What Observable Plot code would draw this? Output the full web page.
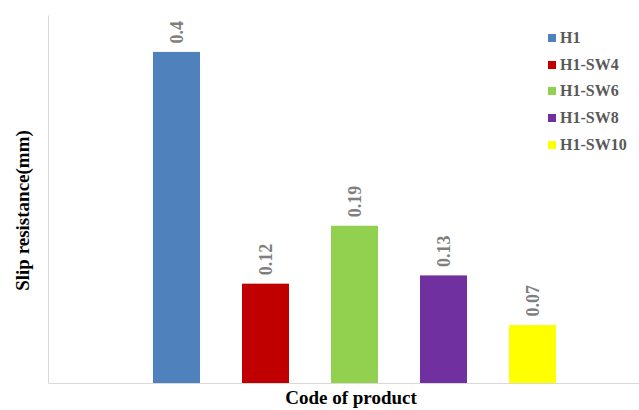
<!DOCTYPE html>
<html>
<head>
<meta charset="utf-8">
<script src="https://cdn.jsdelivr.net/npm/d3@7"></script>
<script src="https://cdn.jsdelivr.net/npm/@observablehq/plot@0.6"></script>
<style>
  html, body { margin: 0; padding: 0; background: #fff; }
  #wrap { position: relative; width: 639px; height: 410px; overflow: hidden; }
  #legend { position: absolute; left: 548px; top: 25px; font-family: "Liberation Serif", "Times New Roman", serif; font-weight: bold; font-size: 16px; color: #595959; }
  #legend .row { display: flex; align-items: center; height: 26.6px; }
  #legend .sw { width: 8px; height: 8px; margin-right: 4px; }
</style>
</head>
<body>
<div id="wrap"></div>
<script>
const categories = ["H1", "H1-SW4", "H1-SW6", "H1-SW8", "H1-SW10"];
const values = [0.4, 0.12, 0.19, 0.13, 0.07];
const colors = ["#4F81BD", "#C00000", "#92D050", "#7030A0", "#FFFF00"];
const yLabel = "Slip resistance(mm)";
const xLabel = "Code of product";

const data = categories.map((c, i) => ({code: c, value: values[i]}));
const serif = "Liberation Serif, Times New Roman, serif";

const W = 639, H = 410, mL = 48, mR = 0, mT = 15, mB = 27;
const fw = W - mL - mR, fh = H - mT - mB;

const chart = Plot.plot({
  width: W,
  height: H,
  marginLeft: mL,
  marginRight: mR,
  marginTop: mT,
  marginBottom: mB,
  x: {domain: categories, range: [130.9, 577], paddingInner: 0.474, paddingOuter: 0.237, axis: null},
  y: {domain: [0, 0.4446], axis: null},
  color: {domain: categories, range: colors},
  marks: [
    Plot.frame({stroke: "#d9d9d9", strokeWidth: 1, strokeDasharray: `0,${fw + fh},${fw + fh}`}),
    Plot.barY(data, {x: "code", y: "value", fill: "code"}),
    Plot.text(data, {x: "code", y: "value", text: d => String(d.value), rotate: -90, textAnchor: "start", dy: -9, fill: "#7f7f7f", fontWeight: "bold", fontSize: 18, fontFamily: serif}),
    Plot.text([yLabel], {frameAnchor: "left", textAnchor: "middle", rotate: -90, dx: -26, dy: 11, fill: "#000", fontWeight: "bold", fontSize: 19, fontFamily: serif}),
    Plot.text([xLabel], {frameAnchor: "bottom", textAnchor: "middle", dx: 7, dy: 20, fill: "#000", fontWeight: "bold", fontSize: 19, fontFamily: serif})
  ]
});

const wrap = document.getElementById("wrap");
wrap.appendChild(chart);

const legend = document.createElement("div");
legend.id = "legend";
categories.forEach((c, i) => {
  const row = document.createElement("div");
  row.className = "row";
  const sw = document.createElement("span");
  sw.className = "sw";
  sw.style.background = colors[i];
  const t = document.createElement("span");
  t.textContent = c;
  row.appendChild(sw);
  row.appendChild(t);
  legend.appendChild(row);
});
wrap.appendChild(legend);
</script>
</body>
</html>
